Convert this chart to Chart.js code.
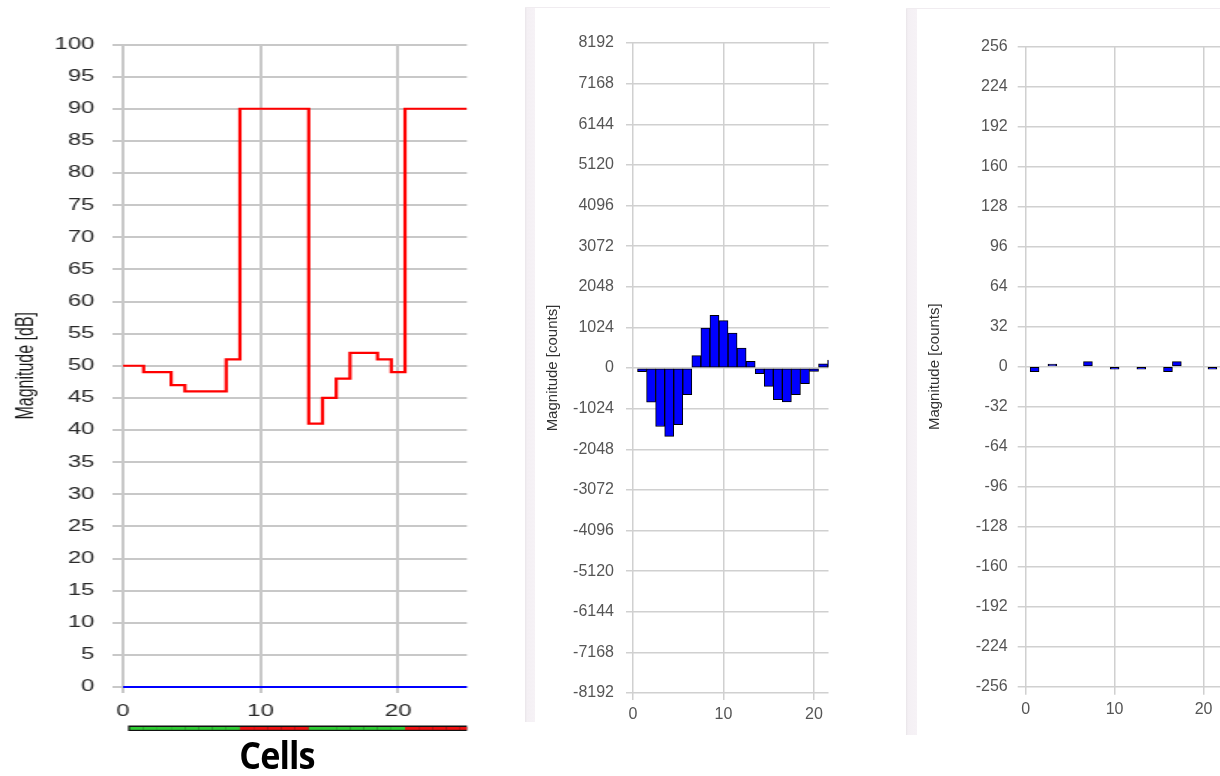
<!DOCTYPE html>
<html>
<head>
<meta charset="utf-8">
<script src="https://cdn.jsdelivr.net/npm/chart.js@4.4.1/dist/chart.umd.min.js"></script>
<style>
  html, body { margin: 0; padding: 0; background: #fff; width: 1220px; height: 776px; overflow: hidden; }
  .box { position: absolute; top: 0; height: 776px; }
  /* the dB panel is horizontally stretched in the reference */
  #wrapDb { left: 0; width: 320px; transform: scaleX(1.5); transform-origin: 0 0; }
  #wrapMid { left: 535px; width: 295px; }
  #wrapRight { left: 917px; width: 303px; }
  .strip { position: absolute; background: linear-gradient(to right, #e9e5e9 0, #f4f0f4 2px, #f6f2f6 100%); }
  .topline { position: absolute; height: 1px; background: #f0ecf0; }
  #cells { position: absolute; left: 197px; width: 160px; top: 735px; text-align: center;
           font: bold 38px "Open Sans", sans-serif; line-height: 1; color: #000; letter-spacing: -1px;
           transform: scaleX(0.9); }
</style>
</head>
<body>
<div class="strip" style="left:525px; top:7px; width:10px; height:715px;"></div>
<div class="topline" style="left:525px; top:7px; width:305px;"></div>
<div class="strip" style="left:906px; top:8px; width:11px; height:727px;"></div>
<div class="topline" style="left:906px; top:8px; width:314px;"></div>

<div class="box" id="wrapDb"><canvas id="dbChart"></canvas></div>
<div class="box" id="wrapMid"><canvas id="midChart"></canvas></div>
<div class="box" id="wrapRight"><canvas id="rightChart"></canvas></div>
<div id="cells">Cells</div>

<script>
// left panel: magnitude per cell
const cells = [0, 1, 2, 3, 4, 5, 6, 7, 8, 9, 10, 11, 12, 13, 14, 15, 16, 17, 18, 19, 20, 21, 22, 23, 24, 25];
const magnitudeDb = [50, 50, 49, 49, 47, 46, 46, 46, 51, 90, 90, 90, 90, 90, 41, 45, 48, 52, 52, 51, 49, 90, 90, 90, 90, 90];
const floorDb = [0, 0, 0, 0, 0, 0, 0, 0, 0, 0, 0, 0, 0, 0, 0, 0, 0, 0, 0, 0, 0, 0, 0, 0, 0, 0];
// colour strip under the axis (G = green, R = red)
const stripCells = [1, 2, 3, 4, 5, 6, 7, 8, 9, 10, 11, 12, 13, 14, 15, 16, 17, 18, 19, 20, 21, 22, 23, 24, 25];
const stripState = ['G', 'G', 'G', 'G', 'G', 'G', 'G', 'G', 'R', 'R', 'R', 'R', 'R',
                    'G', 'G', 'G', 'G', 'G', 'G', 'G', 'R', 'R', 'R', 'R', 'R'];

// middle panel
const binsMid = [1, 2, 3, 4, 5, 6, 7, 8, 9, 10, 11, 12, 13, 14, 15, 16, 17, 18, 19, 20, 21, 22];
const countsMid = [-90, -860, -1475, -1725, -1430, -673, 310, 1008, 1327, 1193, 883, 504, 167,
                   -144, -464, -800, -857, -673, -396, -86, 108, 200];

// right panel
const binsRight = [1, 2, 3, 4, 5, 6, 7, 8, 9, 10, 11, 12, 13, 14, 15, 16, 17, 18, 19, 20, 21];
const countsRight = [-4, 0, 2, 0, 0, 0, 4, 0, 0, -2, 0, 0, -2, 0, 0, -4, 4, 0, 0, 0, -2];

const stripColors = { G: '#2ecc33', R: '#ee1111' };

const cellStrip = {
    id: 'cellStrip',
    afterDraw(chart) {
        const xs = chart.scales.x;
        const ctx = chart.ctx;
        const first = xs.getPixelForValue(stripCells[0] - 0.5);
        const last = xs.getPixelForValue(Math.min(stripCells[stripCells.length - 1] + 0.5, xs.max));
        ctx.save();
        ctx.fillStyle = '#111';
        ctx.fillRect(first - 1.2, 725.5, last - first + 1.2, 5.5);
        stripCells.forEach((c, i) => {
            const a = xs.getPixelForValue(c - 0.5);
            const b = xs.getPixelForValue(Math.min(c + 0.5, xs.max));
            ctx.fillStyle = stripColors[stripState[i]];
            ctx.fillRect(a, 727, b - a, 2.8);
        });
        ctx.restore();
    }
};

const plainNumber = v => String(v);

new Chart(document.getElementById('dbChart'), {
    type: 'line',
    data: {
        datasets: [{
            data: cells.map((c, i) => ({ x: c, y: magnitudeDb[i] })),
            borderColor: '#ff0000',
            borderWidth: 2.2,
            pointRadius: 0,
            stepped: 'middle',
            fill: false
        }, {
            data: cells.map((c, i) => ({ x: c, y: floorDb[i] })),
            borderColor: '#0000ff',
            borderWidth: 2.2,
            pointRadius: 0,
            clip: false,
            fill: false
        }]
    },
    options: {
        animation: false,
        responsive: true,
        maintainAspectRatio: false,
        layout: { padding: { top: 44.5, bottom: 49, left: 0, right: 8.7 } },
        plugins: { legend: { display: false }, tooltip: { enabled: false } },
        scales: {
            x: {
                type: 'linear', min: 0, max: 25,
                grid: { color: '#c8c8c8', lineWidth: 2, tickLength: 6 },
                border: { display: false },
                ticks: { stepSize: 10, includeBounds: false, callback: plainNumber, color: '#2a2a2a',
                         font: { family: 'Liberation Sans', size: 16 }, padding: 9, maxRotation: 0 },
                afterFit: s => { s.height = 40; }
            },
            y: {
                min: 0, max: 100,
                grid: { color: '#c8c8c8', lineWidth: 2, tickLength: 7 },
                border: { display: false },
                ticks: { stepSize: 5, autoSkip: false, callback: plainNumber, color: '#2a2a2a',
                         font: { family: 'Liberation Sans', size: 16 }, padding: 12 },
                title: { display: true, text: 'Magnitude [dB]', color: '#1a1a1a',
                         font: { family: 'Liberation Sans', size: 16 }, padding: { top: 8, bottom: 0 } },
                afterFit: s => { s.width = 82; }
            }
        }
    },
    plugins: [cellStrip]
});

function countsChart(id, bins, counts, opts) {
    return new Chart(document.getElementById(id), {
        type: 'bar',
        data: {
            labels: bins,
            datasets: [{
                data: counts,
                backgroundColor: '#0000ff',
                borderColor: '#000',
                borderWidth: 1,
                borderSkipped: false,
                categoryPercentage: 1,
                barPercentage: 1
            }]
        },
        options: {
            animation: false,
            responsive: true,
            maintainAspectRatio: false,
            layout: { padding: opts.padding },
            plugins: { legend: { display: false }, tooltip: { enabled: false } },
            scales: {
                x: {
                    type: 'linear', min: 0, max: opts.xMax, offset: false,
                    grid: { offset: false, color: '#d0d0d0', lineWidth: 1.5, tickLength: opts.tick },
                    border: { display: false },
                    ticks: { stepSize: 10, includeBounds: false, callback: plainNumber, color: '#555',
                             font: { family: 'Liberation Sans', size: 16 }, padding: 5, maxRotation: 0 },
                    afterFit: s => { s.height = 40; }
                },
                y: {
                    min: -opts.yMax, max: opts.yMax,
                    grid: { color: '#d0d0d0', lineWidth: 1.5, tickLength: opts.tick },
                    border: { display: false },
                    ticks: { stepSize: opts.yMax / 8, autoSkip: false, callback: plainNumber, color: '#555',
                             font: { family: 'Liberation Sans', size: 16 }, padding: opts.labelPad },
                    title: { display: true, text: 'Magnitude [counts]', color: '#333',
                             font: { family: 'Liberation Sans', size: 15 }, padding: { top: 9, bottom: 0 } },
                    afterFit: s => { s.width = opts.axisWidth; }
                }
            }
        }
    });
}

countsChart('midChart', binsMid, countsMid, {
    padding: { top: 43, bottom: 43, left: 0, right: 1.5 },
    xMax: 21.6, yMax: 8192, tick: 7, labelPad: 12, axisWidth: 98
});

countsChart('rightChart', binsRight, countsRight, {
    padding: { top: 46.7, bottom: 49.3, left: 0, right: 0 },
    xMax: 21.85, yMax: 256, tick: 8, labelPad: 10, axisWidth: 108.7
});
</script>
</body>
</html>
